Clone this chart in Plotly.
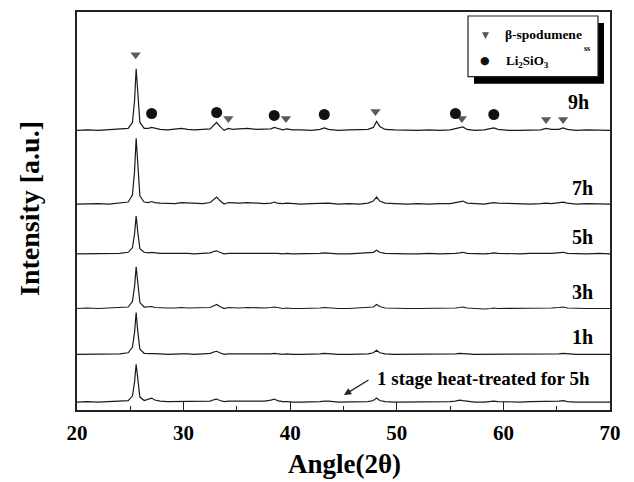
import plotly.graph_objects as go

# ---------------- data ----------------
angles = [20.0, 21.0, 22.0, 23.0, 24.0, 24.8, 25.2, 25.4, 25.55, 25.7, 25.9, 26.3, 26.7, 27.0, 27.3,
          27.8, 28.5, 29.2, 29.8, 30.4, 31.0, 31.8, 32.5, 32.9, 33.1, 33.4, 33.8, 34.2, 34.6, 35.2,
          36.0, 36.8, 37.6, 38.2, 38.5, 38.8, 39.3, 39.7, 40.2, 41.0, 42.0, 42.8, 43.2, 43.6, 44.5,
          45.5, 46.5, 47.3, 47.8, 48.1, 48.4, 48.9, 49.8, 51.0, 52.0, 53.0, 54.0, 55.0, 55.5, 55.9,
          56.2, 56.6, 57.3, 58.2, 58.8, 59.1, 59.5, 60.5, 61.5, 62.5, 63.5, 64.0, 64.5, 65.2, 65.6,
          66.0, 66.8, 67.8, 69.0, 70.0]

i_9h = [0, 0.5, 0, 0.5, 1, 2, 8, 30, 62, 35, 8, 2, 2, 3, 2,
        1, 0.5, 1, 2, 1, 0.5, 1, 1.5, 6, 8, 4, 0, 2, 1, 1.5,
        2, 1, 1, 1.5, 3, 2, 0.5, 1.5, 0.5, 0.5, 0, 1, 2.5, 1, 0,
        0.5, 0.5, 1, 3, 9, 4, 1, 0.5, 0, 0, 0.5, 0, 0.5, 2, 3,
        3.5, 1, 0, 0.5, 1.5, 2.5, 1, 0, 0, 0.5, 0.5, 2, 1, 1, 2.5,
        1, 0, 0.5, 0, 0]
i_7h = [0, 0.5, 0.5, 0, 1, 2, 9, 33, 66, 36, 8, 2, 1.5, 2.5, 1.5,
        1, 0.5, 0.5, 1.5, 1, 0.5, 0.5, 1.5, 5, 7, 3.5, 0, 1.5, 1, 1,
        1.5, 1, 0.5, 1, 2, 1, 0.5, 1, 0.5, 0, 0.5, 1, 1.5, 1, 0,
        0.5, 0, 1, 3, 7, 3, 1, 0.5, 0, 0.5, 0, 0.5, 0.5, 1.5, 2.5,
        3, 1, 0.5, 0, 1, 1.5, 1, 0.5, 0, 0, 0.5, 1, 0.5, 1, 2,
        1, 0, 0.5, 0, 0]
i_5h = [0, 0, 0.5, 0, 0.5, 1.5, 6, 20, 38, 22, 5, 1.5, 1, 1.5, 1,
        0.5, 0.5, 0.5, 1, 0.5, 0, 0.5, 1, 2.5, 3, 1.5, 0, 0.5, 0.5, 0.5,
        1, 0.5, 0.5, 0.5, 1, 0.5, 0, 0.5, 0, 0, 0, 0.5, 1, 0.5, 0,
        0, 0.5, 0.5, 1.5, 3.5, 1.5, 0.5, 0, 0, 0, 0.5, 0, 0, 0.5, 1,
        1.5, 0.5, 0, 0, 0.5, 1, 0.5, 0, 0, 0.5, 0, 0.5, 0.5, 1, 1.5,
        0.5, 0, 0, 0.5, 0]
i_3h = [0, 0.5, 0, 0.5, 0.5, 1.5, 7, 22, 42, 24, 6, 1.5, 1.5, 2, 1,
        0.5, 0.5, 0.5, 1, 0.5, 0.5, 0.5, 1, 3, 4, 2, 0, 1, 0.5, 0.5,
        1, 0.5, 0.5, 1, 1.5, 1, 0, 0.5, 0, 0, 0, 0.5, 1, 0.5, 0,
        0, 0.5, 0.5, 1.5, 4, 2, 0.5, 0, 0, 0, 0, 0.5, 0, 0.5, 1,
        1.5, 0.5, 0, -0.5, 0, 0.5, 0, 0, 0, 0, 0.5, 0.5, 0.5, 1, 1.5,
        0.5, 0, 0, 0, 0]
i_1h = [0, 0, 0.5, 0, 0.5, 1.5, 7, 22, 42, 23, 5, 1, 1, 1, 0.5,
        0.5, 0, 0.5, 0.5, 0.5, 0, 0.5, 1, 2.5, 3, 1.5, 0, 0.5, 0.5, 0.5,
        0.5, 0.5, 0, 0.5, 1, 0.5, 0, 0.5, 0, 0, 0, 0.5, 1, 0.5, 0,
        0, 0, 0.5, 1.5, 4, 1.5, 0.5, 0, 0, 0, 0, 0, 0, 0.5, 1,
        1, 0.5, 0, 0, 0, 0.5, 0, 0, 0, 0, 0, 0.5, 0, 0.5, 1,
        0.5, 0, 0, 0, 0]
i_1stage = [0, 0.5, 0, 0.5, 0.5, 1.5, 6, 20, 38, 21, 5, 1.5, 2.5, 4, 2,
            1, 0.5, 0.5, 1, 0.5, 0.5, 0.5, 1, 2.5, 3, 1.5, 0.5, 1, 1, 1.5,
            1.5, 1, 1, 2, 3, 1.5, 0.5, 0.5, 0, 0, 0, 0.5, 1, 1, 0,
            0, 0.5, 0.5, 1.5, 4, 1.5, 0.5, 0, 0, 0, 0.5, 0, 0.5, 1, 2,
            1.5, 1, 0, 0, 0.5, 1, 0.5, 0, 0, 0.5, 0.5, 0.5, 0.5, 1, 1.5,
            0.5, 0, 0, 0, 0]

sample_labels = ["9h", "7h", "5h", "3h", "1h", "1 stage"]
sample_series = [i_9h, i_7h, i_5h, i_3h, i_1h, i_1stage]
offsets = [281, 207, 157, 102, 56, 8]

# phase markers (on the 9h pattern, heights relative to its baseline)
spod_angles = [25.5, 34.2, 39.6, 48.0, 56.1, 64.0, 65.6]
spod_heights = [76, 12, 12, 19, 12, 11, 11]
li_angles = [27.0, 33.1, 38.5, 43.2, 55.5, 59.1]
li_heights = [17, 18, 15, 16, 17, 16]

# ---------------- figure ----------------
W, H = 634, 482
L, R, T, B = 77, 24, 10, 72
PW, PH = W - L - R, H - T - B

def px(x):
    return (x - L) / PW

def py(y):
    return (H - B - y) / PH

SERIF = "Liberation Serif"
fig = go.Figure()

for name, vals, off in zip(sample_labels, sample_series, offsets):
    fig.add_trace(go.Scatter(x=angles, y=[v + off for v in vals], mode="lines",
                             line=dict(color="#1a1a1a", width=1.2), name=name,
                             showlegend=False, hoverinfo="skip"))

base9 = offsets[0]
fig.add_trace(go.Scatter(x=spod_angles, y=[h + base9 for h in spod_heights], mode="markers",
                         marker=dict(symbol="triangle-down", size=9, color="#5a5a5a"),
                         showlegend=False, hoverinfo="skip"))
fig.add_trace(go.Scatter(x=li_angles, y=[h + base9 for h in li_heights], mode="markers",
                         marker=dict(symbol="circle", size=11, color="#111111"),
                         showlegend=False, hoverinfo="skip"))

annotations = []
label_pos = {"9h": (578, 100), "7h": (582, 187), "5h": (582, 236), "3h": (582, 291), "1h": (582, 337)}
for k, (x, y) in label_pos.items():
    annotations.append(dict(xref="paper", yref="paper", x=px(x), y=py(y), text=k, showarrow=False,
                            font=dict(family=SERIF, size=20, color="black", weight="bold"),
                            xanchor="center", yanchor="middle"))

# 1 stage label and arrow
annotations.append(dict(xref="paper", yref="paper", x=px(375), y=py(378),
                        text="1 stage heat-treated for 5h", showarrow=False,
                        font=dict(family=SERIF, size=19, color="black", weight="bold"),
                        xanchor="left", yanchor="middle"))
annotations.append(dict(xref="paper", yref="paper", x=px(344), y=py(395), ax=26, ay=-16,
                        axref="pixel", ayref="pixel", text="", showarrow=True,
                        arrowhead=2, arrowsize=1.1, arrowwidth=1.3, arrowcolor="#222"))

# axis titles
annotations.append(dict(xref="paper", yref="paper", x=px(344), y=py(464), text="Angle(2θ)",
                        showarrow=False, font=dict(family=SERIF, size=27, color="black", weight="bold"),
                        xanchor="center", yanchor="middle"))
annotations.append(dict(xref="paper", yref="paper", x=px(29), y=py(208), text="Intensity [a.u.]",
                        showarrow=False, textangle=-90,
                        font=dict(family=SERIF, size=28, color="black", weight="bold"),
                        xanchor="center", yanchor="middle"))

# legend box (manual)
shapes = [
    dict(type="rect", xref="paper", yref="paper", x0=px(474), x1=px(604), y0=py(82), y1=py(21),
         fillcolor="black", line=dict(width=0), layer="above"),
    dict(type="rect", xref="paper", yref="paper", x0=px(468), x1=px(598), y0=py(75), y1=py(14),
         fillcolor="white", line=dict(color="#222", width=1.2), layer="above"),
]
annotations += [
    dict(xref="paper", yref="paper", x=px(485), y=py(33), text="▼", showarrow=False,
         font=dict(family="DejaVu Sans", size=9, color="#555"), xanchor="center", yanchor="middle"),
    dict(xref="paper", yref="paper", x=px(485), y=py(59), text="●", showarrow=False,
         font=dict(family="DejaVu Sans", size=11, color="#111"), xanchor="center", yanchor="middle"),
    dict(xref="paper", yref="paper", x=px(503), y=py(33), text="β-spodumene", showarrow=False,
         font=dict(family=SERIF, size=13.5, color="black", weight="bold"), xanchor="left", yanchor="middle"),
    dict(xref="paper", yref="paper", x=px(587), y=py(47), text="ss", showarrow=False,
         font=dict(family=SERIF, size=8, color="black", weight="bold"), xanchor="center", yanchor="middle"),
    dict(xref="paper", yref="paper", x=px(504), y=py(60), text="Li<sub>2</sub>SiO<sub>3</sub>", showarrow=False,
         font=dict(family=SERIF, size=13, color="black", weight="bold"), xanchor="left", yanchor="middle"),
]

fig.update_layout(
    width=W, height=H,
    margin=dict(l=L, r=R, t=T, b=B, pad=0),
    paper_bgcolor="white", plot_bgcolor="white",
    showlegend=False,
    annotations=annotations,
    shapes=shapes,
    xaxis=dict(range=[20, 70], dtick=10, tick0=20, ticks="inside", ticklen=8, tickwidth=1.2,
               tickcolor="#222", showline=True, linecolor="#222", linewidth=1.5, mirror=True,
               showgrid=False, zeroline=False,
               tickfont=dict(family=SERIF, size=21, color="black", weight="bold"),
               ticklabelstandoff=3,
               minor=dict(dtick=5, tick0=20, ticks="inside", ticklen=4, tickwidth=1.2,
                          tickcolor="#222", showgrid=False)),
    yaxis=dict(range=[0, 400], showticklabels=False, ticks="", showline=True, linecolor="#222",
               linewidth=1.5, mirror=True, showgrid=False, zeroline=False),
)

fig.write_html("out.html", config={"displayModeBar": False},
               post_script="document.body.style.margin='0';document.body.style.overflow='hidden';")
